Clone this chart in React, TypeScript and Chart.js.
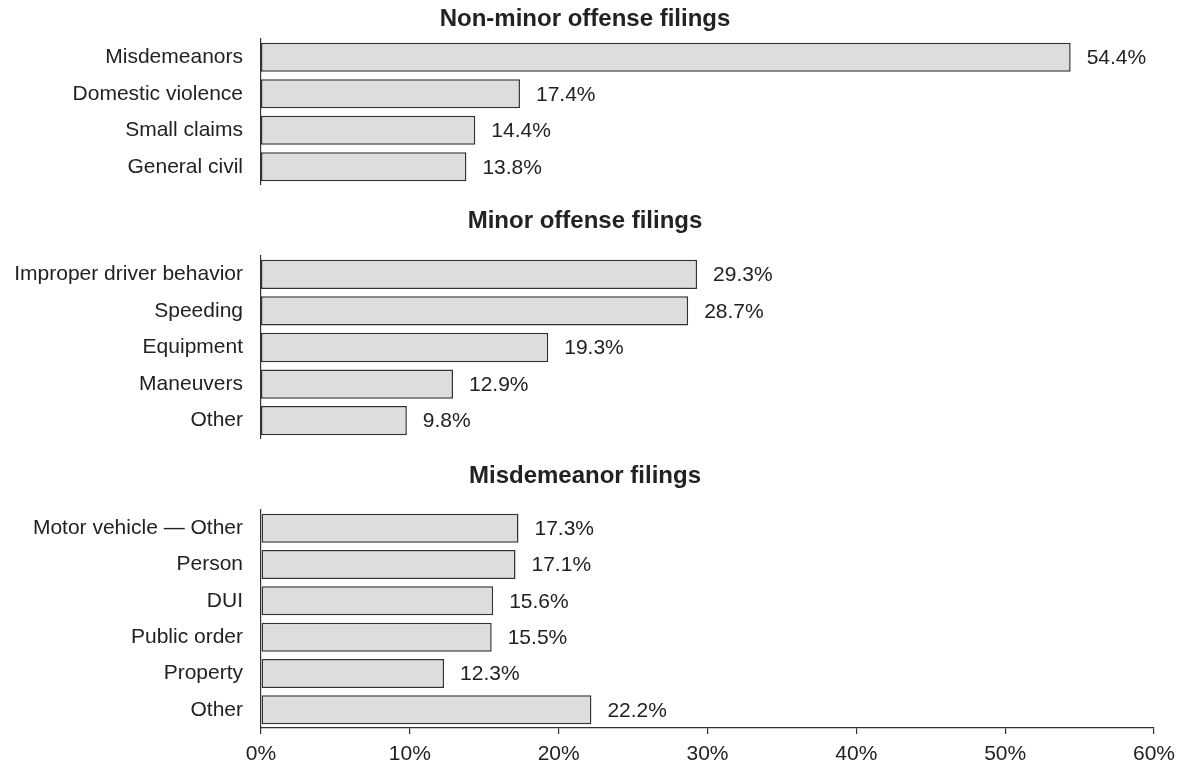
import React, { useEffect, useRef } from "react";
import { Chart, registerables } from "chart.js";

Chart.register(...registerables);

const panel1Title = "Non-minor offense filings";
const panel1Categories = ["Misdemeanors", "Domestic violence", "Small claims", "General civil"];
const panel1Values = [54.4, 17.4, 14.4, 13.8];

const panel2Title = "Minor offense filings";
const panel2Categories = ["Improper driver behavior", "Speeding", "Equipment", "Maneuvers", "Other"];
const panel2Values = [29.3, 28.7, 19.3, 12.9, 9.8];

const panel3Title = "Misdemeanor filings";
const panel3Categories = ["Motor vehicle \u2014 Other", "Person", "DUI", "Public order", "Property", "Other"];
const panel3Values = [17.3, 17.1, 15.6, 15.5, 12.3, 22.2];

const xTickValues = [0, 10, 20, 30, 40, 50, 60];

const FONT = "'Liberation Sans', Arial, Helvetica, sans-serif";
const TEXT = "#222222";

const valueLabelPlugin = {
  id: "valueLabels",
  afterDatasetsDraw(chart: any) {
    const ctx = chart.ctx;
    const meta = chart.getDatasetMeta(0);
    const data = chart.data.datasets[0].data as number[];
    ctx.save();
    ctx.font = `21px ${FONT}`;
    ctx.fillStyle = TEXT;
    ctx.textAlign = "left";
    ctx.textBaseline = "middle";
    meta.data.forEach((bar: any, i: number) => {
      ctx.fillText(data[i].toFixed(1) + "%", bar.x + 16, bar.y + 1);
    });
    ctx.restore();
  },
};

type PanelProps = {
  title: string;
  categories: string[];
  values: number[];
  showX: boolean;
  top: number;
  height: number;
  titleTop: number;
  titleBottom: number;
};

function Panel({ title, categories, values, showX, top, height, titleTop, titleBottom }: PanelProps) {
  const ref = useRef<HTMLCanvasElement | null>(null);
  useEffect(() => {
    if (!ref.current) return;
    const chart = new Chart(ref.current, {
      type: "bar",
      data: {
        labels: categories,
        datasets: [
          {
            data: values,
            backgroundColor: "#dddddd",
            borderColor: "#333333",
            borderWidth: 1.5,
            borderSkipped: false,
            barPercentage: 0.8,
            categoryPercentage: 1,
          },
        ],
      },
      options: {
        indexAxis: "y",
        animation: false,
        responsive: false,
        maintainAspectRatio: false,
        layout: { padding: { left: 16, right: 29, top: 0, bottom: 0 } },
        plugins: {
          legend: { display: false },
          tooltip: { enabled: false },
          title: {
            display: true,
            text: title,
            color: TEXT,
            font: { family: FONT, size: 24, weight: "bold" },
            padding: { top: titleTop, bottom: titleBottom },
          },
        },
        scales: {
          x: {
            display: showX,
            min: 0,
            max: 60,
            afterBuildTicks: (scale: any) => {
              scale.ticks = xTickValues.map((v) => ({ value: v }));
            },
            afterFit: (scale: any) => {
              scale.height = showX ? 38 : 0;
              scale.paddingLeft = 0;
              scale.paddingRight = 0;
            },
            grid: { display: true, drawOnChartArea: false, drawTicks: true, tickLength: 6, color: "#333333", lineWidth: 1.2 },
            border: { display: true, color: "#333333", width: 1.2 },
            ticks: {
              padding: 8,
              color: TEXT,
              font: { family: FONT, size: 21 },
              maxRotation: 0,
              callback: (v: any) => v + "%",
            },
          },
          y: {
            type: "category",
            offset: true,
            afterFit: (scale: any) => {
              scale.width = 245;
              scale.paddingTop = 0;
              scale.paddingBottom = 0;
            },
            grid: { display: false, drawTicks: false },
            border: { display: true, color: "#333333", width: 1.2 },
            ticks: {
              padding: 18,
              color: TEXT,
              font: { family: FONT, size: 21 },
            },
          },
        },
      },
      plugins: [valueLabelPlugin],
    } as any);
    return () => chart.destroy();
  }, []);
  return (
    <canvas
      ref={ref}
      width={1183}
      height={height}
      style={{ position: "absolute", left: 0, top, width: 1183, height }}
    />
  );
}

export default function App() {
  return (
    <div style={{ position: "absolute", left: 0, top: 0, width: 1183, height: 766, background: "#ffffff" }}>
      <Panel title={panel1Title} categories={panel1Categories} values={panel1Values} showX={false} top={0} height={185} titleTop={4.6} titleBottom={5.6} />
      <Panel title={panel2Title} categories={panel2Categories} values={panel2Values} showX={false} top={200} height={239} titleTop={6.6} titleBottom={20.6} />
      <Panel title={panel3Title} categories={panel3Categories} values={panel3Values} showX={true} top={455} height={311} titleTop={6.6} titleBottom={19.6} />
    </div>
  );
}
